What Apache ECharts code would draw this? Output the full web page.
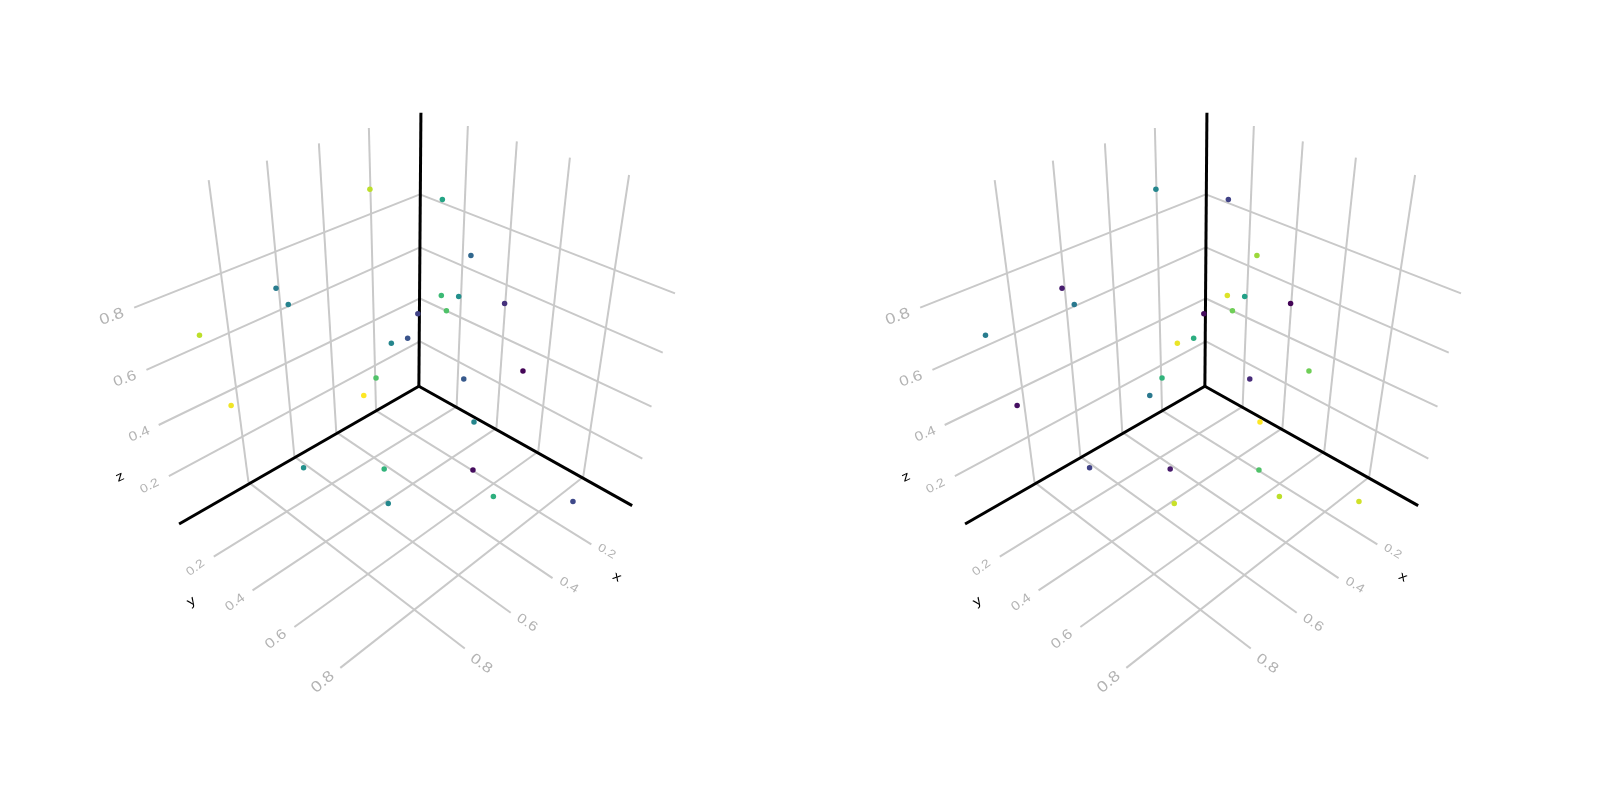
<!DOCTYPE html>
<html><head><meta charset="utf-8">
<style>html,body{margin:0;padding:0;background:#fff}#c{width:1600px;height:800px}</style>
<script src="https://cdn.jsdelivr.net/npm/echarts@6/dist/echarts.min.js"></script>
</head><body><div id="c"></div>
<script>
// Projected plot-plane positions of the 25 points (shared by both panels)
const pointX = [362,433,461,270,282,195,432,449,494,437,409,399,383,368,454,512,356,226,464,297,376,463,483,380,561];
const pointY = [185,195,250,282,298,328,289,290,297,304,307,331,336,370,371,363,387,397,413,458,459,460,486,493,491];
// Colour variable per panel
const colourLeft  = [.90,.58,.33,.42,.45,.90,.68,.50,.14,.72,.20,.26,.46,.72,.28,.01,1.0,.98,.46,.50,.65,.03,.63,.47,.22];
const colourRight = [.46,.20,.85,.08,.40,.42,.95,.57,.01,.78,.03,.62,.97,.65,.12,.78,.40,.04,1.0,.20,.07,.72,.90,.92,.93];
const viridis = ['#440154','#482878','#3e4989','#31688e','#26828e','#1f9e89','#35b779','#6ece58','#b5de2b','#fde725'];
// Wall and floor grid lines [x1,y1,x2,y2]
const gridSegments = [
 [243,472,204,176],[288,447,261,157],[329,423,312,140],[368,402,361,125],
 [411,190,131,301],[411,242,143,362],[411,292,155,416],[411,334,165,466],
 [571,467,616,171],[527,442,558,154],[486,419,506,138],[447,398,458,123],
 [411,190,661,287],[411,242,649,345],[411,292,638,398],[411,334,629,449],
 [571,467,333,654],[527,442,288,614],[486,419,247,578],[447,398,209,545],
 [243,472,455,635],[288,447,500,600],[329,423,541,566],[368,402,579,533]
];
const axisSegments = [[410,378,412,110],[410,378,619,495],[410,378,175,513]];
// Tick labels: text, x, y, rotation (deg), font size
const tickLabels = [
 ['0.8',109,310,20,18],['0.6',122,371,20,17],['0.4',136,425,23,15.5],['0.2',146,476,26,14],
 ['0.2',191,556,36,14],['0.4',230,590,36,15],['0.6',270,626,38,16.5],['0.8',316,668,40,18],
 ['0.2',594,540,-30,13.5],['0.4',557,573,-31,14.5],['0.6',516,610,-33,16],['0.8',471,650,-35,17]
];
const axisTitles = [['z',117,467,25,15.5],['y',187,589,35,15.5],['x',604,565,-30,15.5]];
const panels = [colourLeft, colourRight];
const panelLeft = [0, 786];

function segmentSeries(rows, idx, stroke, width, z){
  return {type:'custom',xAxisIndex:idx,yAxisIndex:idx,coordinateSystem:'cartesian2d',z:z,silent:true,clip:false,
    data:rows,encode:{x:[0,2],y:[1,3]},
    renderItem:function(p,api){
      const a=api.coord([api.value(0),api.value(1)]),b=api.coord([api.value(2),api.value(3)]);
      return {type:'line',shape:{x1:a[0],y1:a[1],x2:b[0],y2:b[1]},style:{stroke:stroke,lineWidth:width,lineCap:'butt'}};
    }};
}
function textSeries(rows, idx, fill, z){
  return {type:'custom',xAxisIndex:idx,yAxisIndex:idx,coordinateSystem:'cartesian2d',z:z,silent:true,clip:false,
    data:rows.map(r=>[r[1],r[2],r[3],r[4],r[0]]),encode:{x:0,y:1},
    renderItem:function(p,api){
      const a=api.coord([api.value(0),api.value(1)]);
      return {type:'text',x:a[0],y:a[1],rotation:api.value(2)*Math.PI/180,scaleY:0.85,
        style:{text:String(rows[p.dataIndex][0]),fill:fill,fontSize:api.value(3),fontFamily:'Liberation Sans',align:'center',verticalAlign:'middle'}};
    }};
}
const grids=[],xAxes=[],yAxes=[],series=[],maps=[];
panels.forEach((colours,i)=>{
  grids.push({left:panelLeft[i],top:0,width:800,height:800,outerBoundsMode:'none',containLabel:false});
  xAxes.push({type:'value',gridIndex:i,min:-0.5,max:783.5,show:false});
  yAxes.push({type:'value',gridIndex:i,min:-0.5,max:783.5,inverse:true,show:false});
  series.push(segmentSeries(gridSegments,i,'#c9c9c9',2,1));
  series.push(segmentSeries(axisSegments,i,'#000000',3,2));
  series.push(textSeries(tickLabels,i,'#b3b3b3',3));
  series.push(textSeries(axisTitles,i,'#000000',3));
  series.push({type:'scatter',xAxisIndex:i,yAxisIndex:i,z:4,symbolSize:5.5,silent:true,itemStyle:{opacity:1},
    data:pointX.map((x,k)=>[x,pointY[k],colours[k]])});
  maps.push({show:false,type:'continuous',seriesIndex:series.length-1,dimension:2,min:0,max:1,inRange:{color:viridis,opacity:1}});
});
const chart=echarts.init(document.getElementById('c'),null,{renderer:'canvas'});
chart.setOption({animation:false,backgroundColor:'#fff',grid:grids,xAxis:xAxes,yAxis:yAxes,visualMap:maps,series:series});
</script></body></html>
